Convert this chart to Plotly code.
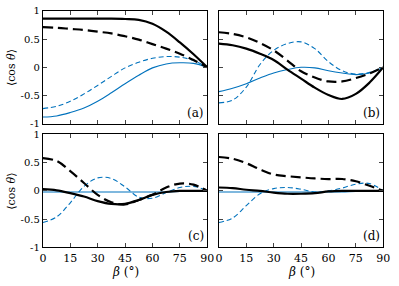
import plotly.graph_objects as go

beta = [0, 7.5, 15, 22.5, 30, 37.5, 45, 52.5, 60, 67.5, 75, 82.5, 90]

# panel (a)
a_black_solid = [0.86, 0.86, 0.86, 0.86, 0.86, 0.86, 0.855, 0.84, 0.77, 0.63, 0.44, 0.23, 0.0]
a_black_dash = [0.71, 0.70, 0.68, 0.66, 0.63, 0.60, 0.55, 0.49, 0.41, 0.33, 0.24, 0.13, 0.0]
a_blue_dash = [-0.73, -0.69, -0.60, -0.47, -0.32, -0.16, -0.01, 0.09, 0.16, 0.19, 0.18, 0.12, 0.0]
a_blue_solid = [-0.88, -0.86, -0.80, -0.72, -0.60, -0.45, -0.29, -0.14, -0.01, 0.06, 0.08, 0.07, 0.0]

# panel (b)
b_black_solid = [0.42, 0.39, 0.33, 0.24, 0.13, -0.04, -0.20, -0.36, -0.49, -0.56, -0.47, -0.27, 0.0]
b_black_dash = [0.62, 0.59, 0.53, 0.43, 0.30, 0.12, -0.07, -0.18, -0.25, -0.25, -0.19, -0.11, 0.0]
b_blue_dash = [-0.63, -0.58, -0.35, 0.05, 0.30, 0.42, 0.45, 0.33, 0.10, -0.06, -0.12, -0.09, 0.0]
b_blue_solid = [-0.43, -0.37, -0.29, -0.19, -0.10, -0.04, 0.0, -0.01, -0.06, -0.10, -0.13, -0.10, 0.0]

# panel (c)
c_black_solid = [0.03, 0.01, -0.04, -0.10, -0.18, -0.23, -0.23, -0.16, -0.07, -0.02, 0.0, 0.0, 0.0]
c_black_dash = [0.58, 0.53, 0.35, 0.14, -0.07, -0.20, -0.24, -0.16, -0.07, 0.06, 0.13, 0.11, 0.0]
c_blue_dash = [-0.56, -0.46, -0.21, 0.08, 0.23, 0.22, 0.07, -0.11, -0.13, -0.03, 0.06, 0.08, 0.0]
c_blue_solid = [-0.02, -0.02, -0.02, -0.02, -0.02, -0.02, -0.02, -0.02, -0.02, -0.02, -0.01, -0.01, 0.0]

# panel (d)
d_black_solid = [0.06, 0.05, 0.02, 0.0, -0.03, -0.05, -0.05, -0.04, -0.01, 0.0, 0.0, 0.0, 0.0]
d_black_dash = [0.60, 0.57, 0.49, 0.38, 0.29, 0.26, 0.24, 0.22, 0.21, 0.21, 0.17, 0.09, 0.0]
d_blue_dash = [-0.56, -0.48, -0.26, -0.05, 0.04, 0.06, 0.03, -0.02, 0.0, 0.05, 0.12, 0.13, 0.0]
d_blue_solid = [-0.02, -0.02, -0.02, -0.02, -0.02, -0.02, -0.02, -0.02, -0.02, -0.02, -0.01, -0.01, 0.0]

panel_labels = ["(a)", "(b)", "(c)", "(d)"]
x_ticks = [0, 15, 30, 45, 60, 75, 90]
y_ticks = [-1, -0.5, 0, 0.5, 1]
y_ticktext = ["-1", "-0.5", "0", "0.5", "1"]

panels = [
    (a_black_solid, a_black_dash, a_blue_dash, a_blue_solid),
    (b_black_solid, b_black_dash, b_blue_dash, b_blue_solid),
    (c_black_solid, c_black_dash, c_blue_dash, c_blue_solid),
    (d_black_solid, d_black_dash, d_blue_dash, d_blue_solid),
]

W, H = 399, 286
xdoms = [(40 / W, 209 / W), (221 / W, 390 / W)]
ydoms = [((H - 123) / H, (H - 5) / H), ((H - 252) / H, (H - 134) / H)]

BLUE = "#0072BD"
FONT = "DejaVu Serif"

fig = go.Figure()
layout = dict(
    width=W, height=H, margin=dict(l=0, r=0, t=0, b=0),
    paper_bgcolor="white", plot_bgcolor="white", showlegend=False,
    font=dict(family=FONT, size=11, color="black"),
)
annotations = []
for i, (bs, bd, ud, us) in enumerate(panels):
    r, c = divmod(i, 2)
    xa = "x" if i == 0 else f"x{i+1}"
    ya = "y" if i == 0 else f"y{i+1}"
    common = dict(x=beta, xaxis=xa, yaxis=ya, mode="lines", hoverinfo="skip")
    fig.add_trace(go.Scatter(y=us, line=dict(color=BLUE, width=1.1, shape="spline"), **common))
    fig.add_trace(go.Scatter(y=ud, line=dict(color=BLUE, width=1.1, dash="5px,3px", shape="spline"), **common))
    fig.add_trace(go.Scatter(y=bd, line=dict(color="black", width=2.2, dash="10px,5px", shape="spline"), **common))
    fig.add_trace(go.Scatter(y=bs, line=dict(color="black", width=2.2, shape="spline"), **common))
    xk = "xaxis" if i == 0 else f"xaxis{i+1}"
    yk = "yaxis" if i == 0 else f"yaxis{i+1}"
    layout[xk] = dict(
        domain=xdoms[c], anchor=ya, range=[0, 90], tickvals=x_ticks,
        showticklabels=(r == 1), ticks="inside", ticklen=4, tickcolor="#444",
        showline=True, linecolor="black", linewidth=1.2, mirror="allticks",
        showgrid=False, zeroline=False, tickfont=dict(family=FONT, size=11),
    )
    layout[yk] = dict(
        domain=ydoms[r], anchor=xa, range=[-1, 1], tickvals=y_ticks, ticktext=y_ticktext,
        showticklabels=(c == 0), ticks="inside", ticklen=4, tickcolor="#444",
        showline=True, linecolor="black", linewidth=1.2, mirror="allticks",
        showgrid=False, zeroline=False, tickfont=dict(family=FONT, size=10),
    )
    annotations.append(dict(
        text=panel_labels[i], xref=f"{xa} domain", yref=f"{ya} domain",
        x=0.99, y=0.02, xanchor="right", yanchor="bottom", showarrow=False,
        font=dict(family=FONT, size=12),
    ))
    if c == 0:
        annotations.append(dict(
            text="⟨cos <i>θ</i>⟩", xref="paper", yref="paper",
            x=8 / W, y=sum(ydoms[r]) / 2, xanchor="center", yanchor="middle",
            textangle=-90, showarrow=False, font=dict(family=FONT, size=11),
        ))
    if r == 1:
        annotations.append(dict(
            text="<i>β</i> (°)", xref="paper", yref="paper",
            x=sum(xdoms[c]) / 2, y=(H - 278) / H, xanchor="center", yanchor="middle",
            showarrow=False, font=dict(family=FONT, size=12),
        ))
layout["annotations"] = annotations
fig.update_layout(**layout)
fig.write_html("out.html", config={"displayModeBar": False},
               post_script="document.body.style.margin='0';document.body.style.overflow='hidden';")
